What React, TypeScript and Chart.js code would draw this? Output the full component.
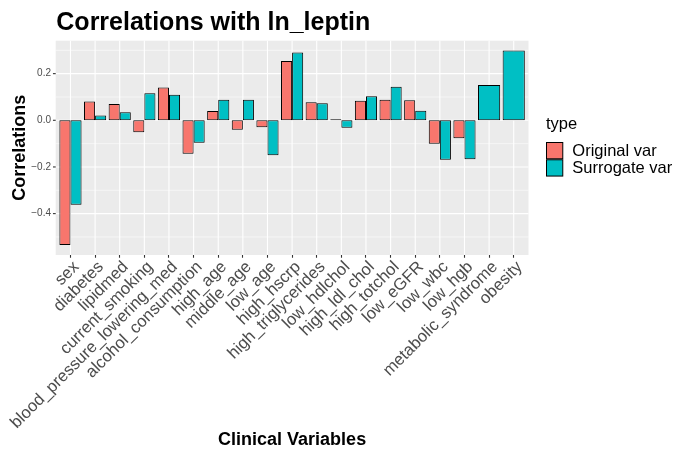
import React, { useEffect, useRef } from 'react';
import { Chart, registerables } from 'chart.js';

Chart.register(...registerables);

// ---------- data ----------
const CATEGORIES = [
  'sex',
  'diabetes',
  'lipidmed',
  'current_smoking',
  'blood_pressure_lowering_med',
  'alcohol_consumption',
  'high_age',
  'middle_age',
  'low_age',
  'high_hscrp',
  'high_triglycerides',
  'low_hdlchol',
  'high_ldl_chol',
  'high_totchol',
  'low_eGFR',
  'low_wbc',
  'low_hgb',
  'metabolic_syndrome',
  'obesity',
];

const ORIGINAL_VAR = [
  -0.534, 0.081, 0.07, -0.051, 0.141, -0.143, 0.04, -0.04, -0.03, 0.254,
  0.077, 0.004, 0.084, 0.088, 0.086, -0.1, -0.077, null, null,
];

const SURROGATE_VAR = [
  -0.362, 0.021, 0.034, 0.116, 0.11, -0.096, 0.088, 0.088, -0.15, 0.291,
  0.073, -0.032, 0.103, 0.144, 0.041, -0.169, -0.167, 0.151, 0.299,
];

const SERIES_LABELS = ['Original var', 'Surrogate var'];
const SERIES_COLORS = ['#F8766D', '#00BFC4'];

const Y_MAJOR_TICKS = [-0.4, -0.2, 0, 0.2];
const Y_MINOR_TICKS = [-0.5, -0.3, -0.1, 0.1, 0.3];
const Y_MIN = -0.5774;
const Y_MAX = 0.3412;

const TITLE = 'Correlations with ln_leptin';
const X_TITLE = 'Clinical Variables';
const Y_TITLE = 'Correlations';
const LEGEND_TITLE = 'type';

// ---------- layout ----------
const W = 675;
const H = 453;
const FONT = '"Liberation Sans", Arial, Helvetica, sans-serif';
const PANEL = { left: 55.7, right: 528.5, top: 40.7, bottom: 255 };
const UNIT = (PANEL.right - PANEL.left) / (CATEGORIES.length - 1 + 1.2);
const AREA_LEFT = PANEL.left + 0.1 * UNIT;
const AREA_RIGHT = PANEL.right - 0.1 * UNIT;
const X_LABEL_SIZE = 16.7;

const fmt = (v: number) => {
  const s = Math.abs(v) < 1e-9 ? '0.0' : v.toFixed(1);
  return s.replace('-', '\u2212');
};

const ggPlugin = {
  id: 'ggstyle',
  beforeDatasetsDraw(chart: any) {
    const ctx = chart.ctx as CanvasRenderingContext2D;
    const xs = chart.scales.x;
    const ys = chart.scales.y;
    ctx.save();
    ctx.fillStyle = '#EBEBEB';
    ctx.fillRect(PANEL.left, PANEL.top, PANEL.right - PANEL.left, PANEL.bottom - PANEL.top);
    const hline = (py: number, x0: number, x1: number) => {
      ctx.beginPath();
      ctx.moveTo(x0, py);
      ctx.lineTo(x1, py);
      ctx.stroke();
    };
    ctx.strokeStyle = '#FFFFFF';
    ctx.lineWidth = 0.55;
    for (const v of Y_MINOR_TICKS) hline(ys.getPixelForValue(v), PANEL.left, PANEL.right);
    ctx.lineWidth = 1.1;
    for (const v of Y_MAJOR_TICKS) hline(ys.getPixelForValue(v), PANEL.left, PANEL.right);
    for (let i = 0; i < CATEGORIES.length; i++) {
      const px = xs.getPixelForValue(i);
      ctx.beginPath();
      ctx.moveTo(px, PANEL.top);
      ctx.lineTo(px, PANEL.bottom);
      ctx.stroke();
    }
    ctx.strokeStyle = '#333333';
    ctx.lineWidth = 1.1;
    for (const v of Y_MAJOR_TICKS) hline(ys.getPixelForValue(v), PANEL.left - 2.75, PANEL.left);
    ctx.restore();
  },
  afterDraw(chart: any) {
    const ctx = chart.ctx as CanvasRenderingContext2D;
    ctx.save();
    ctx.fillStyle = '#000000';
    // main title
    ctx.font = `bold 25px ${FONT}`;
    ctx.textAlign = 'left';
    ctx.textBaseline = 'alphabetic';
    ctx.fillText(TITLE, 56.3, 29.5);
    // x title
    ctx.font = `bold 18px ${FONT}`;
    ctx.textAlign = 'center';
    ctx.fillText(X_TITLE, (PANEL.left + PANEL.right) / 2, 445);
    // y title
    ctx.save();
    ctx.translate(24.5, (PANEL.top + PANEL.bottom) / 2);
    ctx.rotate(-Math.PI / 2);
    ctx.fillText(Y_TITLE, 0, 0);
    ctx.restore();
    // legend
    ctx.font = `16.5px ${FONT}`;
    ctx.textAlign = 'left';
    ctx.textBaseline = 'alphabetic';
    ctx.fillText(LEGEND_TITLE, 546, 128.5);
    const keyX = 546;
    const keyY0 = 142;
    const keySize = 17.28;
    chart.data.datasets.forEach((ds: any, i: number) => {
      const ky = keyY0 + i * keySize;
      ctx.fillStyle = ds.backgroundColor;
      ctx.fillRect(keyX + 0.5, ky + 0.5, keySize - 1, keySize - 1);
      ctx.strokeStyle = '#000000';
      ctx.lineWidth = 1;
      ctx.strokeRect(keyX + 0.5, ky + 0.5, keySize - 1, keySize - 1);
      ctx.fillStyle = '#000000';
      ctx.textBaseline = 'middle';
      ctx.fillText(ds.label, 572.3, ky + keySize / 2 + 0.5);
    });
    ctx.restore();
  },
};

export default function App() {
  const canvasRef = useRef<HTMLCanvasElement | null>(null);

  useEffect(() => {
    if (!canvasRef.current) return;
    const chart = new Chart(canvasRef.current, {
      type: 'bar',
      data: {
        labels: CATEGORIES,
        datasets: [
          {
            label: SERIES_LABELS[0],
            data: ORIGINAL_VAR,
            backgroundColor: SERIES_COLORS[0],
            borderColor: '#000000',
            borderWidth: 1,
            borderSkipped: false,
            categoryPercentage: 0.9,
            barPercentage: 1,
            skipNull: true,
          } as any,
          {
            label: SERIES_LABELS[1],
            data: SURROGATE_VAR,
            backgroundColor: SERIES_COLORS[1],
            borderColor: '#000000',
            borderWidth: 1,
            borderSkipped: false,
            categoryPercentage: 0.9,
            barPercentage: 1,
            skipNull: true,
          } as any,
        ],
      },
      options: {
        responsive: false,
        animation: false,
        devicePixelRatio: 1,
        layout: {
          padding: { left: 0, top: PANEL.top, right: W - AREA_RIGHT, bottom: 0 },
        },
        plugins: {
          legend: { display: false },
          title: { display: false },
          tooltip: { enabled: false },
        },
        scales: {
          x: {
            type: 'category',
            offset: true,
            grid: {
              display: true,
              drawOnChartArea: false,
              drawTicks: true,
              tickLength: 2.75,
              tickWidth: 1.1,
              tickColor: '#333333',
              offset: false,
            },
            border: { display: false },
            ticks: {
              autoSkip: false,
              minRotation: 45,
              maxRotation: 45,
              color: '#4D4D4D',
              font: { family: FONT, size: X_LABEL_SIZE, lineHeight: 1 },
              padding: 0.8,
              labelOffset: X_LABEL_SIZE * 0.354,
            },
            afterFit: (s: any) => {
              s.height = H - PANEL.bottom;
            },
          },
          y: {
            type: 'linear',
            min: Y_MIN,
            max: Y_MAX,
            grid: { display: false, drawTicks: false },
            border: { display: false },
            afterBuildTicks: (s: any) => {
              s.ticks = Y_MAJOR_TICKS.map((v) => ({ value: v }));
            },
            ticks: {
              color: '#4D4D4D',
              font: { family: FONT, size: 10 },
              padding: AREA_LEFT - 51,
              callback: (v: any) => fmt(Number(v)),
            },
            afterFit: (s: any) => {
              s.width = AREA_LEFT;
            },
          },
        },
      },
      plugins: [ggPlugin],
    } as any);
    return () => chart.destroy();
  }, []);

  return (
    <div style={{ position: 'fixed', left: 0, top: 0, width: W, height: H, background: '#ffffff' }}>
      <canvas ref={canvasRef} width={W} height={H} style={{ display: 'block' }} />
    </div>
  );
}
